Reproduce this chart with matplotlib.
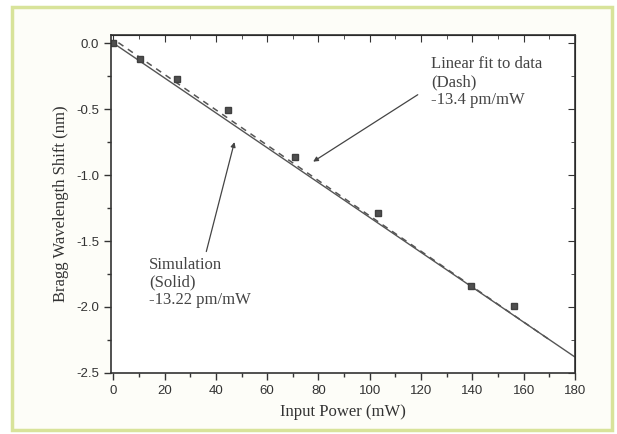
import matplotlib
matplotlib.use("Agg")
import matplotlib.pyplot as plt
import numpy as np
from matplotlib.patches import Rectangle
from matplotlib.ticker import MultipleLocator

# Data
power_mw = [0, 10.5, 24.8, 44.9, 70.9, 103, 139.5, 156.3]
shift_nm = [0.0, -0.12, -0.27, -0.505, -0.86, -1.29, -1.84, -1.99]

sim_slope = -0.01322   # nm/mW
sim_x = [0, 180]
fit_slope = -0.0134
fit_intercept = 0.03
fit_x = [2, 171]

fig = plt.figure(figsize=(6.17, 4.34), dpi=100)
fig.patch.set_facecolor("white")
fig.patches.append(Rectangle((12/617, 4/434), 600/617, 423/434, transform=fig.transFigure,
                             facecolor="#fdfdf8", edgecolor="#d8e39a", linewidth=2.5, zorder=-10))

ax = fig.add_axes([0.1794, 0.1406, 0.7526, 0.7784])
ax.set_facecolor("white")

sx = np.array(sim_x)
ax.plot(sx, sim_slope * sx, color="#555555", lw=1.0, solid_capstyle="butt")
fx = np.array(fit_x)
ax.plot(fx, fit_intercept + fit_slope * fx, color="#555555", lw=1.1, ls=(0, (4, 3.5)))
ax.plot(power_mw, shift_nm, ls="none", marker="s", ms=4.6, color="#505050",
        markeredgecolor="#404040")

ax.set_xlim(-1, 180)
ax.set_ylim(-2.5, 0.06)
ax.xaxis.set_major_locator(MultipleLocator(20))
ax.xaxis.set_minor_locator(MultipleLocator(10))
ax.yaxis.set_major_locator(MultipleLocator(0.5))
ax.yaxis.set_minor_locator(MultipleLocator(0.25))
ax.yaxis.set_major_formatter(matplotlib.ticker.FormatStrFormatter("%.1f"))

for lbl in ax.get_xticklabels() + ax.get_yticklabels():
    lbl.set_family("Liberation Sans")
    lbl.set_fontsize(9.5)
    lbl.set_color("#333333")

ax.tick_params(which="both", direction="out", top=False, right=False, color="#333333")
ax.tick_params(which="major", length=5, width=1)
ax.tick_params(which="minor", length=3, width=1)
sec = ax.secondary_xaxis("top")
sec.xaxis.set_major_locator(MultipleLocator(20))
sec.xaxis.set_minor_locator(MultipleLocator(10))
sec.tick_params(which="both", direction="in", labeltop=False, color="#333333")
sec.tick_params(which="major", length=5)
sec.tick_params(which="minor", length=3)
sec2 = ax.secondary_yaxis("right")
sec2.yaxis.set_major_locator(MultipleLocator(0.5))
sec2.yaxis.set_minor_locator(MultipleLocator(0.25))
sec2.tick_params(which="both", direction="in", labelright=False, color="#333333")
sec2.tick_params(which="major", length=5)
sec2.tick_params(which="minor", length=3)

for s in ax.spines.values():
    s.set_color("#333333")
    s.set_linewidth(1.2)

ax.set_xlabel("Input Power (mW)", family="Liberation Serif", fontsize=12, color="#333333", labelpad=5)
ax.set_ylabel("Bragg Wavelength Shift (nm)", family="Liberation Serif", fontsize=12, color="#333333", labelpad=5)

ax.annotate("", xy=(77, -0.91), xytext=(119.6, -0.38),
            arrowprops=dict(arrowstyle="-|>", color="#444444", lw=0.9, mutation_scale=7))
ax.annotate("", xy=(47.5, -0.73), xytext=(36, -1.6),
            arrowprops=dict(arrowstyle="-|>", color="#444444", lw=0.9, mutation_scale=7))

ax.text(124, -0.1, "Linear fit to data\n(Dash)\n-13.4 pm/mW", family="Liberation Serif",
        fontsize=12, color="#444444", va="top", ha="left", linespacing=1.15)
ax.text(14, -1.62, "Simulation\n(Solid)\n-13.22 pm/mW", family="Liberation Serif",
        fontsize=12, color="#444444", va="top", ha="left", linespacing=1.15)

fig.savefig("out.png", dpi=100)
